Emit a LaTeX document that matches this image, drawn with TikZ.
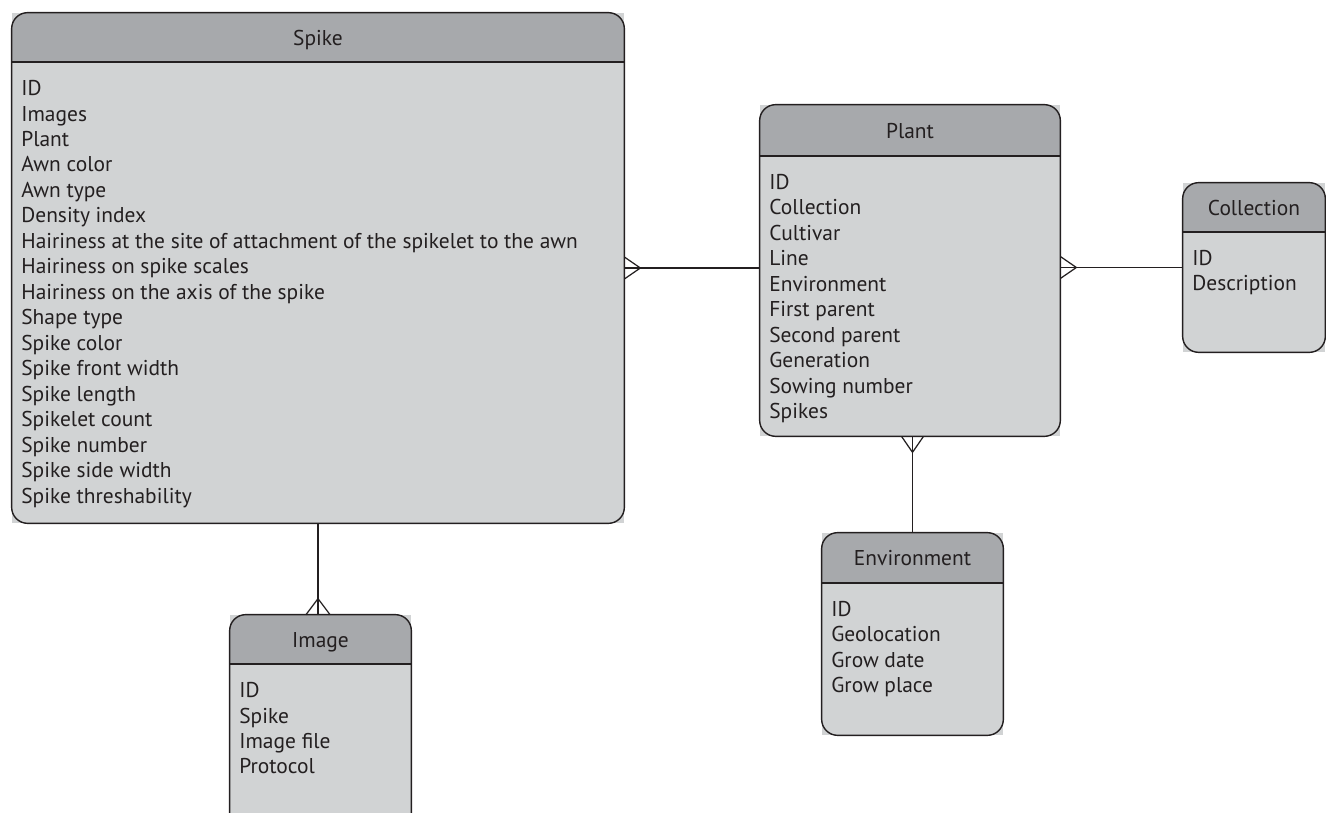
\documentclass[tikz,border=0pt]{standalone}
\usepackage{fontspec}
\setmainfont{PT Sans}
\usetikzlibrary{fit}
\definecolor{headgray}{HTML}{A7A9AC}
\definecolor{bodygray}{HTML}{D1D3D4}
\definecolor{edgeblack}{HTML}{231F20}

% #1 name, #2 left, #3 top, #4 right, #5 bottom, #6 header line, #7 title, #8 fields
\newcommand{\entity}[8]{%
  \node[entbox, fit={(#2,#3) (#4,#5)}] (#1) {};
  \begin{scope}
    \clip[rounded corners=3.2mm] (#1.north west) rectangle (#1.south east);
    \fill[headgray] (#1.north west) rectangle (#4,#6);
  \end{scope}
  \draw[edge] (#2,#6) -- (#4,#6);
  \draw[edge, rounded corners=3.2mm] (#1.north west) rectangle (#1.south east);
  \node[enttitle] (#1-title) at ({(#2+#4)/2},{(#3+#6)/2+8}) {#7};
  \node[entfields] (#1-fields) at (#2+9,#6+18) {#8};
}

\begin{document}
\begin{tikzpicture}[x=0.02cm, y=-0.02cm,
  every node/.style={font=\fontsize{12.2}{14.5}\selectfont, text=edgeblack},
  entbox/.style={fill=bodygray, inner sep=0pt},
  edge/.style={draw=edgeblack, line width=0.8pt},
  link/.style={draw=edgeblack, line width=0.7pt},
  enttitle/.style={anchor=base, inner sep=0pt},
  entfields/.style={anchor=north west, align=left, inner sep=0pt}]
\clip (0,0) rectangle (1326,813);
\fill[white] (0,0) rectangle (1326,813);

\entity{spike}{12}{13}{624}{523}{62}{Spike}{ID\\Images\\Plant\\Awn color\\Awn type\\Density index\\Hairiness at the site of attachment of the spikelet to the awn\\Hairiness on spike scales\\Hairiness on the axis of the spike\\Shape type\\Spike color\\Spike front width\\Spike length\\Spikelet count\\Spike number\\Spike side width\\Spike threshability}
\entity{plant}{760}{105}{1060}{436}{156}{Plant}{ID\\Collection\\Cultivar\\Line\\Environment\\First parent\\Second parent\\Generation\\Sowing number\\Spikes}
\entity{collection}{1183}{183}{1325}{352}{232}{Collection}{ID\\Description}
\entity{environment}{822}{533}{1003}{735}{583}{Environment}{ID\\Geolocation\\Grow date\\Grow place}
\entity{image}{230}{615}{411}{850}{664}{Image}{ID\\Spike\\Image file\\Protocol}

% relations with crow's feet on the "many" side
\draw[link] (spike.east) -- (spike.east -| plant.west);
\draw[link] (spike.east) ++(0,-11) -- ++(16,11) -- ++(-16,11);
\draw[link] (collection.west -| plant.east) -- (collection.west);
\draw[link] (collection.west -| plant.east) ++(0,-11) -- ++(16,11) -- ++(-16,11);
\draw[link] (spike.south) -- (spike.south |- image.north);
\draw[link] (spike.south |- image.north) ++(-12,0) -- ++(12,-16) -- ++(12,16);
\draw[link] (environment.north) -- (environment.north |- plant.south);
\draw[link] (environment.north |- plant.south) ++(-11,0) -- ++(11,16) -- ++(11,-16);
\end{tikzpicture}
\end{document}
